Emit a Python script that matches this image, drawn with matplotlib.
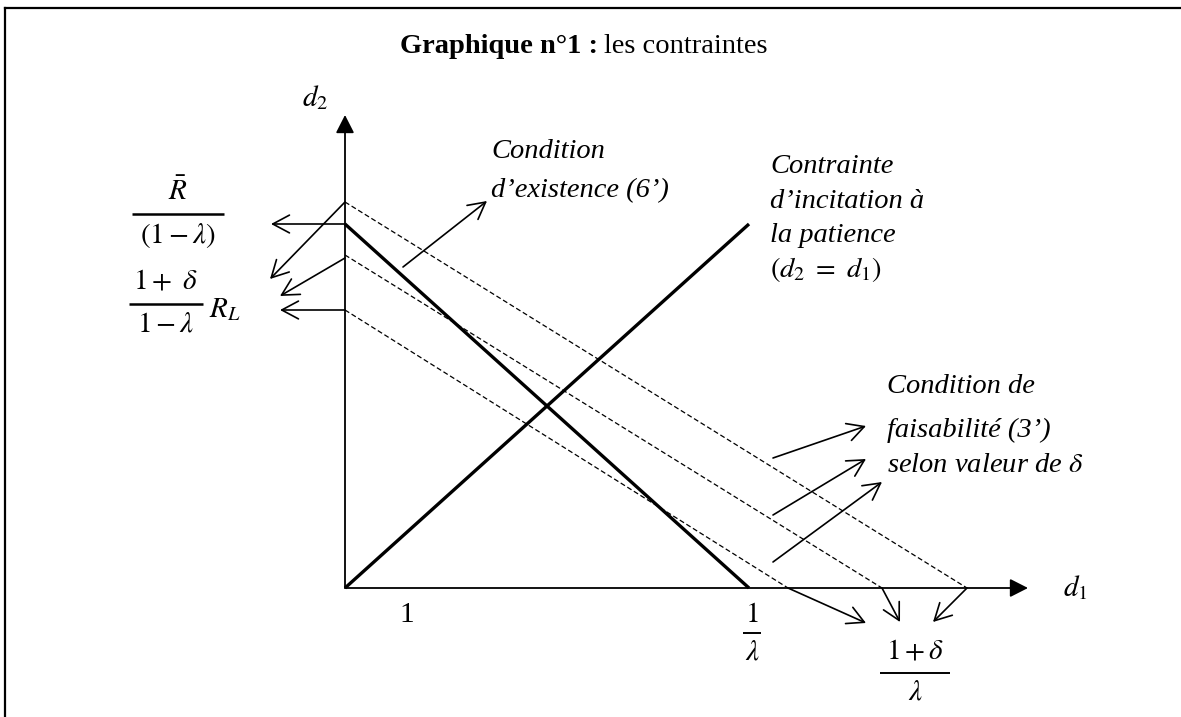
import matplotlib.pyplot as plt

plt.rcParams['mathtext.fontset'] = 'stix'
plt.rcParams['font.family'] = ['Liberation Serif', 'DejaVu Serif']

# valeurs (unites arbitraires, origine des axes en (0, 0))
x_max = 683                  # longueur de l'axe d1
y_max = 473                  # longueur de l'axe d2
one_tick = 62                # position du "1" sur l'axe d1
inv_lambda = 404             # 1/lambda sur l'axe d1
r_bar = 364                  # Rbar/(1-lambda) sur l'axe d2
diag_end = (404, 364)        # extremite de la droite d2 = d1
feas_d2 = [386, 333, 278]    # ordonnees a l'origine, condition (3')
feas_d1 = [622, 537, 443]    # abscisses a l'origine, condition (3')

fig = plt.figure(figsize=(11.81, 7.17), dpi=100)
ax = fig.add_axes([0, 0, 1, 1])
ax.set_xlim(-345, 836)
ax.set_ylim(-129, 588)
ax.axis('off')

# cadre
ax.plot([-340, 836], [580, 580], color='k', lw=1.6)
ax.plot([-340, -340], [580, -129], color='k', lw=1.6)

# axes avec fleches pleines
axis_style = dict(arrowstyle='-|>,head_length=0.55,head_width=0.28', color='k',
                  lw=1.3, shrinkA=0, shrinkB=0, mutation_scale=20)
ax.annotate('', xy=(x_max, 0), xytext=(0, 0), arrowprops=axis_style)
ax.annotate('', xy=(0, y_max), xytext=(0, 0), arrowprops=axis_style)

# contraintes
ax.plot([0, inv_lambda], [r_bar, 0], color='k', lw=2.4, solid_capstyle='butt')
ax.plot([0, diag_end[0]], [0, diag_end[1]], color='k', lw=2.4, solid_capstyle='butt')
for a, b in zip(feas_d1, feas_d2):
    ax.plot([0, a], [b, 0], color='k', lw=0.9, dashes=(4, 2.2))

# petites fleches ouvertes
def arrow(start, end):
    ax.annotate('', xy=end, xytext=start,
                arrowprops=dict(arrowstyle='->,head_length=0.6,head_width=0.32',
                                color='k', lw=1.2, shrinkA=0, shrinkB=0,
                                mutation_scale=20))

arrow((0, r_bar), (-74, r_bar))
arrow((0, feas_d2[2]), (-65, feas_d2[2]))
arrow((0, feas_d2[0]), (-75, 309))
arrow((0, feas_d2[1] - 3), (-65, 292))
arrow((58, 321), (142, 387))
arrow((428, 130), (521, 162))
arrow((428, 73), (521, 129))
arrow((428, 26), (537, 106))
arrow((feas_d1[2], 0), (521, -35))
arrow((feas_d1[1], 0), (555, -34))
arrow((feas_d1[0], 0), (588, -34))

fs = 20.5   # texte
fm = 21     # formules

# fraction ecrite a la main : numerateur, barre, denominateur
def frac(xc, ybar, num, den, half, yn, yd, lw=1.4):
    ax.text(xc, ybar + yn, num, fontsize=fm, ha='center', va='center')
    ax.text(xc, ybar - yd, den, fontsize=fm, ha='center', va='center')
    ax.plot([xc - half, xc + half], [ybar, ybar], color='k', lw=lw,
            solid_capstyle='butt')

# titre
t1 = ax.text(55, 535, 'Graphique n°1 :', fontsize=fs, fontweight='bold', va='baseline')
fig.canvas.draw()
bb = t1.get_window_extent(fig.canvas.get_renderer())
x_end = ax.transData.inverted().transform((bb.x1, bb.y0))[0]
ax.text(x_end + 6, 535, 'les contraintes', fontsize=fs, va='baseline')

# noms des axes et graduations
ax.text(-30, 490, r'$d_2$', fontsize=fm, ha='center', va='center')
ax.text(730, 0, r'$d_1$', fontsize=fm, ha='center', va='center')
ax.text(one_tick, -27, '1', fontsize=fm, ha='center', va='center')
frac(inv_lambda + 3, -45, r'$1$', r'$\lambda$', 9, 18, 19)
frac(570, -85, r'$1+\delta$', r'$\lambda$', 35, 21, 19)
frac(-167, 374, r'$\bar{R}$', r'$(1-\lambda)$', 46, 22, 21, lw=1.8)
frac(-179, 284, r'$1+\ \delta$', r'$1-\lambda$', 37, 22, 21, lw=1.8)
ax.text(-136, 278, r'$R_L$', fontsize=fm, ha='left', va='center')

# commentaires
for i, line in enumerate(['Condition', 'd’existence (6’)']):
    ax.text(146, 430 - 39 * i, line, fontsize=fs, style='italic', va='baseline')

for y, line in zip([415, 380, 346, 311],
                   ['Contrainte', 'd’incitation à', 'la patience', r'$(d_2\ =\ d_1)$']):
    ax.text(425, y, line, fontsize=fs, style='italic', va='baseline')

for y, line in zip([195, 151, 116],
                   ['Condition de', 'faisabilité (3’)', r'selon valeur de $\delta$']):
    ax.text(542, y, line, fontsize=fs, style='italic', va='baseline')

fig.savefig('out.png', dpi=100)
